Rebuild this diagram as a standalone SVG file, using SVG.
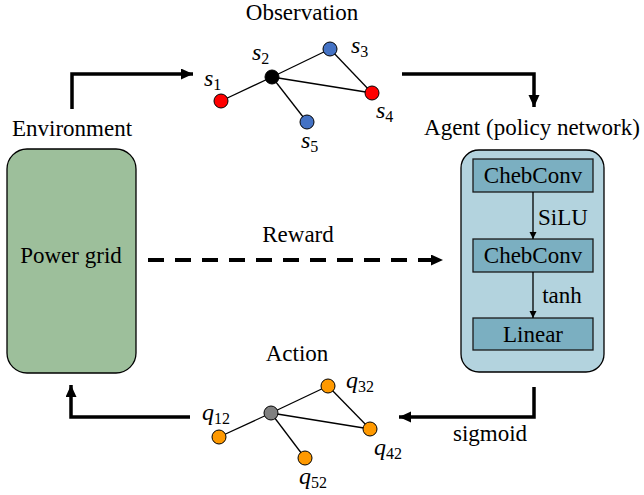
<svg xmlns="http://www.w3.org/2000/svg" width="644" height="495" viewBox="0 0 644 495">
<style>
.t{font-family:"Liberation Serif","Times New Roman",serif;font-size:23px;fill:#000;text-anchor:middle}
.m{font-family:"Liberation Serif","Times New Roman",serif;font-size:24px;font-style:italic;fill:#000}
.sub{font-family:"Liberation Serif","Times New Roman",serif;font-size:16px;font-style:normal}
.flow{fill:none;stroke:#000;stroke-width:3.5}
.edge{stroke:#000;stroke-width:1.3}
.nd{stroke:#000;stroke-width:1}
.inner{fill:#7bafc1;stroke:#1a1a1a;stroke-width:1.3}
.thin{stroke:#000;stroke-width:1.3;fill:none}
</style>
<defs>
<marker id="ah" markerUnits="userSpaceOnUse" markerWidth="12" markerHeight="12" refX="12" refY="5.5" orient="auto">
<path d="M0,0 L12,5.5 L0,11 z" fill="#000"/>
</marker>
<marker id="ahs" markerUnits="userSpaceOnUse" markerWidth="7" markerHeight="8" refX="7" refY="3.5" orient="auto">
<path d="M0,0 L7,3.5 L0,7 z" fill="#000"/>
</marker>
</defs>

<g id="environment">
<text class="t" x="72" y="136">Environment</text>
<rect x="7" y="149" width="129" height="224" rx="20" ry="20" fill="#9dbf9b" stroke="#000" stroke-width="1.3"/>
<text class="t" x="71" y="263">Power grid</text>
</g>

<g id="agent">
<text class="t" x="532" y="135">Agent (policy network)</text>
<rect x="461" y="150" width="143" height="222" rx="18" ry="18" fill="#b3d3de" stroke="#000" stroke-width="1.3"/>
<g id="chebconv1">
<rect class="inner" x="473" y="159" width="120" height="33"/>
<text class="t" x="533" y="183">ChebConv</text>
</g>
<g id="chebconv2">
<rect class="inner" x="473" y="239" width="120" height="33"/>
<text class="t" x="533" y="263">ChebConv</text>
</g>
<g id="linear">
<rect class="inner" x="473" y="318" width="120" height="32"/>
<text class="t" x="533" y="342">Linear</text>
</g>
<text class="t" x="563" y="225">SiLU</text>
<text class="t" x="562" y="303">tanh</text>
</g>

<g id="observation">
<text class="t" x="302" y="20">Observation</text>
<line class="edge" x1="221" y1="101" x2="272" y2="77"/>
<line class="edge" x1="272" y1="77" x2="330" y2="49"/>
<line class="edge" x1="272" y1="77" x2="372" y2="93"/>
<line class="edge" x1="330" y1="49" x2="372" y2="93"/>
<line class="edge" x1="272" y1="77" x2="307" y2="122"/>
<circle class="nd" cx="221" cy="101" r="7" fill="#ff0000"/>
<circle class="nd" cx="272" cy="77" r="7" fill="#000"/>
<circle class="nd" cx="330" cy="49" r="7" fill="#4472c4"/>
<circle class="nd" cx="372" cy="93" r="7" fill="#ff0000"/>
<circle class="nd" cx="307" cy="122" r="7" fill="#4472c4"/>
<text class="m" x="204" y="86">s<tspan class="sub" dy="4">1</tspan></text>
<text class="m" x="252" y="60">s<tspan class="sub" dy="4">2</tspan></text>
<text class="m" x="351" y="53">s<tspan class="sub" dy="4">3</tspan></text>
<text class="m" x="376" y="118">s<tspan class="sub" dy="4">4</tspan></text>
<text class="m" x="301" y="148">s<tspan class="sub" dy="4">5</tspan></text>
</g>

<g id="action">
<text class="t" x="297" y="361">Action</text>
<line class="edge" x1="219" y1="437" x2="271" y2="413"/>
<line class="edge" x1="271" y1="413" x2="328" y2="386"/>
<line class="edge" x1="271" y1="413" x2="370" y2="429"/>
<line class="edge" x1="328" y1="386" x2="370" y2="429"/>
<line class="edge" x1="271" y1="413" x2="305" y2="458"/>
<circle class="nd" cx="219" cy="437" r="7" fill="#ff9900"/>
<circle class="nd" cx="271" cy="413" r="7" fill="#808080"/>
<circle class="nd" cx="328" cy="386" r="7" fill="#ff9900"/>
<circle class="nd" cx="370" cy="429" r="7" fill="#ff9900"/>
<circle class="nd" cx="305" cy="458" r="7" fill="#ff9900"/>
<text class="m" x="202" y="420">q<tspan class="sub" dy="4">12</tspan></text>
<text class="m" x="346" y="388">q<tspan class="sub" dy="4">32</tspan></text>
<text class="m" x="374" y="455">q<tspan class="sub" dy="4">42</tspan></text>
<text class="m" x="299" y="484">q<tspan class="sub" dy="4">52</tspan></text>
</g>

<g id="connectors">
<path class="flow" d="M72,109 V74 H193" marker-end="url(#ah)"/>
<path class="flow" d="M402,74 H534 V107" marker-end="url(#ah)"/>
<path class="flow" d="M534,387 V417 H399" marker-end="url(#ah)"/>
<path class="flow" d="M190,417 H71 V385" marker-end="url(#ah)"/>
<line x1="148" y1="260" x2="443" y2="260" stroke="#000" stroke-width="4" stroke-dasharray="16,11" marker-end="url(#ah)"/>
<line class="thin" x1="533" y1="192" x2="533" y2="239" marker-end="url(#ahs)"/>
<line class="thin" x1="533" y1="272" x2="533" y2="318" marker-end="url(#ahs)"/>
<text class="t" x="490" y="441">sigmoid</text>
<text class="t" x="298" y="242">Reward</text>
</g>
</svg>
